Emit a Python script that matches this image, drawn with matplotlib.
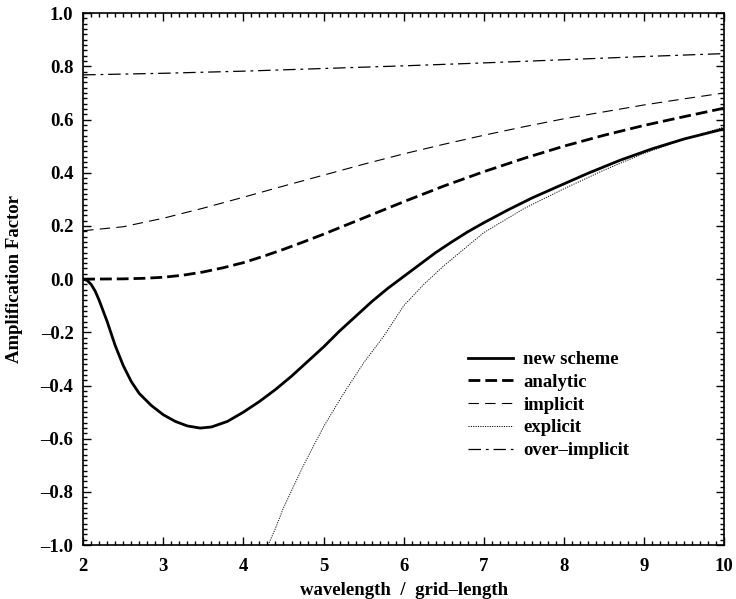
import matplotlib
matplotlib.use('Agg')
import matplotlib.pyplot as plt
from matplotlib.ticker import MultipleLocator

plt.rcParams['font.family'] = ['Liberation Serif', 'DejaVu Serif']
plt.rcParams['font.weight'] = 'bold'
plt.rcParams['lines.scale_dashes'] = False

# wavelength / grid-length and amplification factor
x_new = [2.0, 2.05, 2.1, 2.15, 2.2, 2.3, 2.4, 2.5, 2.6, 2.7, 2.85, 3.0, 3.15, 3.3, 3.46,
         3.6, 3.8, 4.0, 4.2, 4.4, 4.6, 4.8, 5.0, 5.2, 5.4, 5.6, 5.8, 6.0, 6.2, 6.4,
         6.6, 6.8, 7.0, 7.3, 7.6, 7.9, 8.3, 8.7, 9.1, 9.5, 10.0]
y_new = [0.0, -0.005, -0.02, -0.045, -0.08, -0.16, -0.25, -0.325, -0.385, -0.43, -0.475, -0.51,
         -0.535, -0.552, -0.56, -0.556, -0.535, -0.50, -0.46, -0.415, -0.365, -0.31, -0.255,
         -0.195, -0.14, -0.085, -0.035, 0.01, 0.055, 0.1, 0.14, 0.178, 0.212, 0.26, 0.305,
         0.345, 0.398, 0.447, 0.49, 0.527, 0.565]

x_ana = [2.0, 2.5, 2.75, 3.0, 3.25, 3.5, 3.75, 4.0, 4.25, 4.5, 4.75, 5.0, 5.5, 6.0, 6.5,
         7.0, 7.5, 8.0, 8.5, 9.0, 9.5, 10.0]
y_ana = [0.0, 0.001, 0.003, 0.007, 0.015, 0.027, 0.043, 0.062, 0.086, 0.112, 0.14, 0.169,
         0.23, 0.291, 0.35, 0.404, 0.454, 0.50, 0.541, 0.578, 0.611, 0.643]

x_imp = [2.0, 2.5, 3.0, 3.5, 4.0, 4.5, 5.0, 5.5, 6.0, 6.5, 7.0, 7.5, 8.0, 8.5, 9.0, 9.5, 10.0]
y_imp = [0.182, 0.197, 0.229, 0.267, 0.308, 0.35, 0.391, 0.432, 0.471, 0.507, 0.541, 0.573,
         0.603, 0.629, 0.655, 0.678, 0.70]

x_exp = [4.25, 4.4, 4.5, 4.75, 5.0, 5.25, 5.5, 5.75, 6.0, 6.25, 6.5, 7.0, 7.5, 8.0, 8.5,
         9.0, 9.5, 10.0]
y_exp = [-1.04, -0.937, -0.86, -0.70, -0.555, -0.43, -0.315, -0.215, -0.10, -0.02, 0.05,
         0.175, 0.265, 0.34, 0.41, 0.473, 0.526, 0.572]

x_over = [2.0, 3.0, 4.0, 5.0, 6.0, 7.0, 8.0, 9.0, 10.0]
y_over = [0.768, 0.774, 0.782, 0.792, 0.802, 0.813, 0.825, 0.837, 0.848]

fig = plt.figure(figsize=(7.36, 5.99), dpi=100)
ax = fig.add_axes([0.113, 0.09, 0.871, 0.888])

ax.plot(x_new, y_new, color='black', lw=2.0, label='new scheme')
ax.plot(x_ana, y_ana, color='black', lw=2.0, dashes=(8.5, 3.6), label='analytic')
ax.plot(x_imp, y_imp, color='black', lw=0.8, dashes=(7.5, 4.5), label='implicit')
ax.plot(x_exp, y_exp, color='black', lw=0.7, dashes=(0.8, 0.9), label='explicit')
ax.plot(x_over, y_over, color='black', lw=0.9, dashes=(9, 3.5, 2, 3.5), label='over\u2013implicit')

ax.set_xlim(2, 10)
ax.set_ylim(-1, 1)
ax.xaxis.set_major_locator(MultipleLocator(1))
ax.xaxis.set_minor_locator(MultipleLocator(0.1))
ax.yaxis.set_major_locator(MultipleLocator(0.2))
ax.yaxis.set_minor_locator(MultipleLocator(0.02))
ax.yaxis.set_major_formatter(lambda v, p: f'{v:.1f}'.replace('-', '\u2013'))
ax.tick_params(which='both', direction='in', top=True, right=True, labelsize=13.5, width=1)
ax.tick_params(which='major', length=6)
ax.tick_params(axis='y', which='major', pad=7)
ax.tick_params(axis='x', which='major', pad=9)
ax.tick_params(which='minor', length=3)
for s in ax.spines.values():
    s.set_linewidth(1.2)

ax.set_xlabel('wavelength  /  grid\u2013length', fontsize=13.5, fontweight='bold', labelpad=5)
ax.set_ylabel('Amplification Factor', fontsize=13.5, fontweight='bold', labelpad=13)

ax.legend(loc='upper left', bbox_to_anchor=(0.6, 0.365), frameon=False, fontsize=13.5,
          handlelength=2.4, handletextpad=0.55, labelspacing=0.3, borderpad=0, borderaxespad=0)

fig.savefig('out.png', dpi=100)
